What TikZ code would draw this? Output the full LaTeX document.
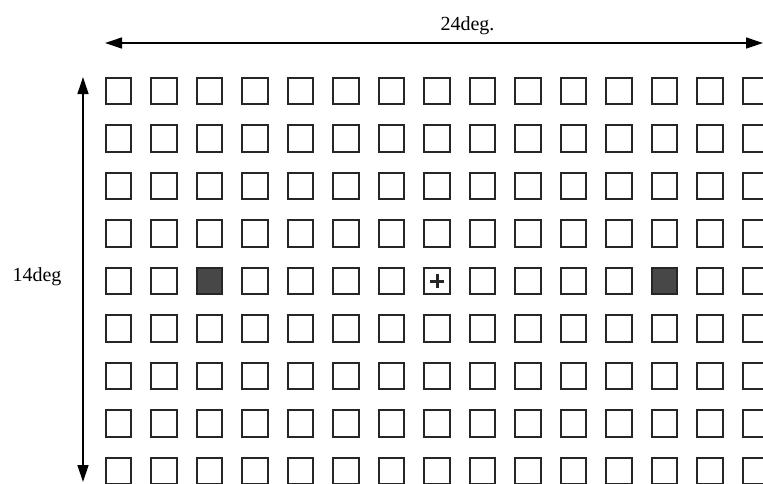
\documentclass[tikz,border=0pt]{standalone}
\usepackage{fontspec}
\setmainfont{Liberation Serif}
\usetikzlibrary{arrows.meta}
\begin{document}
\begin{tikzpicture}[x=1pt,y=-1pt,
  cell/.style={draw=black!85, line width=1.9pt, minimum width=25.5pt, minimum height=26.5pt, inner sep=0pt, fill=white},
  target/.style={cell, fill=black!72},
  fixation/.style={cell, path picture={
      \draw[line width=3pt] ([xshift=-7pt]path picture bounding box.center) -- ([xshift=7pt]path picture bounding box.center);
      \draw[line width=3pt] ([yshift=-7pt]path picture bounding box.center) -- ([yshift=7pt]path picture bounding box.center);}},
  dimline/.style={line width=1.3pt, {Triangle[length=17pt,width=11pt]}-{Triangle[length=17pt,width=11pt]}},
  lab/.style={font=\fontsize{20}{24}\selectfont, inner sep=0pt, anchor=base}
]
\useasboundingbox (0,0) rectangle (763,483);
\clip (0,0) rectangle (763,483);
\fill[white] (0,0) rectangle (763,483);
\foreach \r in {0,...,8} \foreach \c in {0,...,14} {
  \def\st{cell}
  \ifnum\r=4
    \ifnum\c=2 \def\st{target}\fi
    \ifnum\c=12 \def\st{target}\fi
    \ifnum\c=7 \def\st{fixation}\fi
  \fi
  \node[\st] (s-\r-\c) at ({118.5+45.5*\c},{91+47.5*\r}) {};
}
\coordinate (hl) at (105,43);
\coordinate (hr) at (763,43);
\draw[dimline] (hl) -- (hr);
\node[lab] (hlab) at (467.5,30) {24deg.};
\coordinate (vt) at (83,77);
\coordinate (vb) at (83,482);
\draw[dimline] (vt) -- (vb);
\node[lab] (vlab) at (37,281) {14deg};
\end{tikzpicture}
\end{document}
